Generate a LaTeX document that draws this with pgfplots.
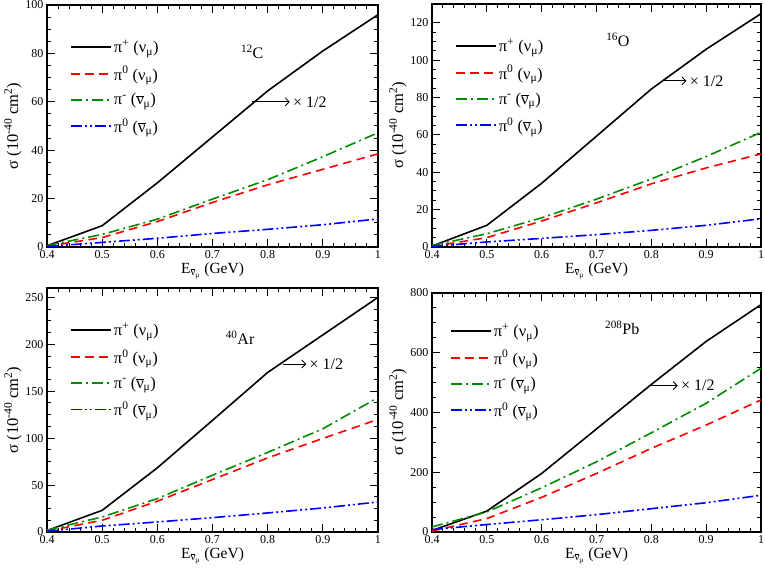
\documentclass[border=0pt]{standalone}
\usepackage{pgfplots}
\pgfplotsset{compat=1.18}
\usepackage{fontspec}
\setmainfont{Liberation Serif}
\usetikzlibrary{arrows.meta}
\definecolor{mygreen}{rgb}{0,0.55,0}
\newcommand{\nub}{$\overline{\mbox{ν}}$}
\tikzset{annot/.style={font=\fontsize{16bp}{19bp}\selectfont}}
\pgfplotsset{
  myaxis/.style={
    scale only axis, width=331bp,
    xmin=0.4, xmax=1,
    xtick={0.4,0.5,0.6,0.7,0.8,0.9,1},
    xticklabels={0.4,0.5,0.6,0.7,0.8,0.9,1},
    minor x tick num=4, minor y tick num=3,
    tick align=inside,
    major tick length=8bp, minor tick length=4bp,
    axis line style={line width=1.2bp},
    every tick/.style={line width=1bp, black},
    tick label style={font=\fontsize{12bp}{14bp}\selectfont},
    /pgf/number format/assume math mode=true,
    xlabel style={font=\fontsize{15.5bp}{18bp}\selectfont, yshift=3bp},
    ylabel style={font=\fontsize{16.5bp}{19bp}\selectfont, yshift=-3bp},
    xlabel={E\textsubscript{\nub\textsubscript{μ}} (GeV)},
    ylabel={σ (10\textsuperscript{-40} cm\textsuperscript{2})},
    legend style={draw=none, fill=none, at={(0.07,0.865)}, anchor=north west,
      font=\fontsize{16.5bp}{19bp}\selectfont, row sep=8bp, inner sep=0pt},
    legend cell align=left,
    legend image code/.code={\draw[##1] (0bp,0bp) -- (40bp,0bp);},
  },
  pplus/.style={black, line width=1.6bp, solid},
  pzero/.style={red, line width=1.6bp, dash pattern=on 8.5bp off 5.5bp},
  pminus/.style={mygreen, line width=1.6bp, dash pattern=on 11bp off 4bp on 2bp off 4bp},
  pzerob/.style={blue, line width=1.6bp, dash pattern=on 11bp off 3bp on 2bp off 3bp on 2bp off 3bp},
}
\newcommand{\mylegend}{\legend{π\textsuperscript{+} (ν\textsubscript{μ}),
  π\textsuperscript{0} (ν\textsubscript{μ}),
  π\textsuperscript{-} (\nub\textsubscript{μ}),
  π\textsuperscript{0} (\nub\textsubscript{μ})}}
\begin{document}
\begin{tikzpicture}
\useasboundingbox (0,0) rectangle (765bp,573bp);
% ---------- 12C ----------
\begin{axis}[myaxis, at={(47bp,326bp)}, anchor=south west, height=242bp,
  ymin=0, ymax=100, ytick={0,20,40,60,80,100}]
\addplot[pplus] coordinates {(0.4,0.5)(0.5,8.8)(0.6,26.5)(0.7,45.5)(0.8,64.5)(0.9,81)(1.0,96)};
\addplot[pzero] coordinates {(0.4,0.3)(0.5,3.9)(0.6,10.5)(0.7,18.4)(0.8,25.7)(0.9,32.1)(1.0,38.5)};
\addplot[pminus] coordinates {(0.4,0.6)(0.5,5.2)(0.6,11.5)(0.7,19.8)(0.8,27.8)(0.9,37.3)(1.0,47.2)};
\addplot[pzerob] coordinates {(0.4,0.2)(0.5,1.9)(0.6,3.6)(0.7,5.6)(0.8,7.3)(0.9,9.2)(1.0,11.6)};
\mylegend
\draw[-{Straight Barb[length=4bp]}, line width=0.8bp] (axis cs:0.772,60) -- (axis cs:0.84,60) node[right, inner sep=3bp, annot] {× 1/2};
\node[annot] at (axis cs:0.772,80.6) {\textsuperscript{12}C};
\end{axis}
% ---------- 16O ----------
\begin{axis}[myaxis, at={(432bp,326bp)}, anchor=south west, width=329bp, height=243bp,
  ymin=0, ymax=130, ytick={0,20,40,60,80,100,120}]
\addplot[pplus] coordinates {(0.4,0.5)(0.5,11.6)(0.6,34.1)(0.7,59.3)(0.8,84.5)(0.9,105.8)(1.0,124.8)};
\addplot[pzero] coordinates {(0.4,0.3)(0.5,5)(0.6,13.9)(0.7,23.6)(0.8,33.8)(0.9,42.3)(1.0,49.8)};
\addplot[pminus] coordinates {(0.4,0.8)(0.5,7.1)(0.6,15.6)(0.7,25.6)(0.8,36.4)(0.9,48.4)(1.0,61.3)};
\addplot[pzerob] coordinates {(0.4,0.3)(0.5,2.7)(0.6,4.6)(0.7,6.6)(0.8,8.9)(0.9,11.6)(1.0,15.1)};
\mylegend
\draw[-{Straight Barb[length=4bp]}, line width=0.8bp] (axis cs:0.819,88.9) -- (axis cs:0.864,88.9) node[right, inner sep=3bp, annot] {× 1/2};
\node[annot] at (axis cs:0.739,110.7) {\textsuperscript{16}O};
\end{axis}
% ---------- 40Ar ----------
\begin{axis}[myaxis, at={(47bp,41bp)}, anchor=south west, height=244bp,
  ymin=0, ymax=260, ytick={0,50,100,150,200,250}]
\addplot[pplus] coordinates {(0.4,1.5)(0.5,23.1)(0.6,68.4)(0.7,119)(0.8,170)(0.9,210)(1.0,250)};
\addplot[pzero] coordinates {(0.4,1)(0.5,12.5)(0.6,32.8)(0.7,55.9)(0.8,79)(0.9,99.7)(1.0,120)};
\addplot[pminus] coordinates {(0.4,2)(0.5,16)(0.6,35.6)(0.7,60.5)(0.8,84.8)(0.9,110)(1.0,143.2)};
\addplot[pzerob] coordinates {(0.4,0.8)(0.5,6.4)(0.6,10.7)(0.7,15.3)(0.8,20.3)(0.9,25.6)(1.0,32)};
\mylegend
\draw[-{Straight Barb[length=4bp]}, line width=0.8bp] (axis cs:0.828,179) -- (axis cs:0.87,179) node[right, inner sep=3bp, annot] {× 1/2};
\node[annot] at (axis cs:0.75,207) {\textsuperscript{40}Ar};
\end{axis}
% ---------- 208Pb ----------
\begin{axis}[myaxis, at={(432bp,41bp)}, anchor=south west, width=329bp, height=239bp,
  ymin=0, ymax=800, ytick={0,200,400,600,800},
  legend style={at={(0.055,0.88)}}]
\addplot[pplus] coordinates {(0.4,5)(0.5,70)(0.6,196)(0.7,345)(0.8,494)(0.9,638)(1.0,761)};
\addplot[pzero] coordinates {(0.4,3)(0.5,45)(0.6,116)(0.7,196)(0.8,280)(0.9,358)(1.0,442)};
\addplot[pminus] coordinates {(0.4,17)(0.5,67)(0.6,148)(0.7,235)(0.8,332)(0.9,431)(1.0,548)};
\addplot[pzerob] coordinates {(0.4,8)(0.5,25)(0.6,41)(0.7,58)(0.8,78)(0.9,98)(1.0,123)};
\mylegend
\draw[-{Straight Barb[length=4bp]}, line width=0.8bp] (axis cs:0.80,490) -- (axis cs:0.848,490) node[right, inner sep=3bp, annot] {× 1/2};
\node[annot] at (axis cs:0.747,683) {\textsuperscript{208}Pb};
\end{axis}
\end{tikzpicture}
\end{document}
